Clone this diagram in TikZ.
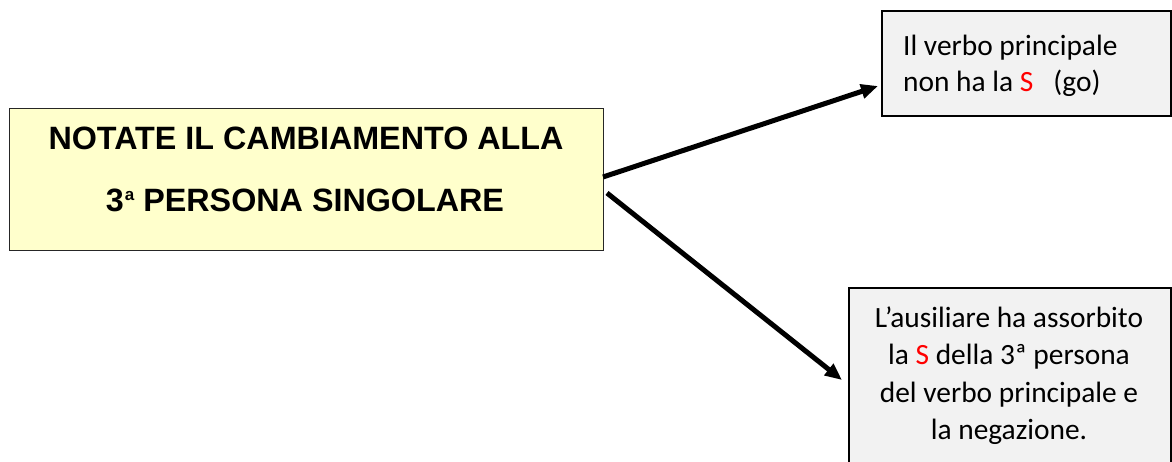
\documentclass[tikz,border=0pt]{standalone}
\usepackage{fontspec}
\setmainfont{Carlito}
\newfontfamily\headfont{Liberation Sans}
\usetikzlibrary{arrows.meta}
\definecolor{mainfill}{HTML}{FFFFCC}
\definecolor{boxfill}{HTML}{F2F2F2}
\definecolor{sred}{HTML}{FF0000}
\tikzset{
  mainbox/.style={draw=black!85, line width=1.2pt, fill=mainfill, anchor=north west, inner sep=0pt},
  notebox/.style={draw=black, line width=2pt, fill=boxfill, anchor=north west, inner sep=0pt},
  headtxt/.style={font=\headfont\bfseries\fontsize{32.3}{37}\selectfont, anchor=base, inner sep=0pt},
  notetxt/.style={font=\fontsize{29.4}{37}\selectfont, inner sep=0pt},
  conn/.style={line width=5pt, -{Triangle[length=17pt,width=14pt]}}
}
\begin{document}
\begin{tikzpicture}[x=1pt,y=-1pt]
\useasboundingbox (0,0) rectangle (1172,461);
\fill[white] (0,0) rectangle (1172,461);
% main box
\node[mainbox, minimum width=594pt, minimum height=142pt] (main) at (9,108) {};
\node[headtxt] (h1) at (306,149) {NOTATE IL CAMBIAMENTO ALLA};
\node[headtxt] (h2) at (305,211) {3\kern1pt\raisebox{11pt}{\fontsize{17}{17}\selectfont a} PERSONA SINGOLARE};
% top note box
\node[notebox, minimum width=289pt, minimum height=105pt] (top) at (881,10) {};
\node[notetxt, anchor=base west] (t1) at (903,55) {Il verbo principale};
\node[notetxt, anchor=base west] (t2) at (903,91) {non ha la \textcolor{sred}{S}\hspace{20pt}(go)};
% bottom note box
\node[notebox, minimum width=322pt, minimum height=200pt] (bot) at (848,287) {};
\node[notetxt, anchor=base] (b1) at (1009,327) {L’ausiliare ha assorbito};
\node[notetxt, anchor=base] (b2) at (1009,364) {la \textcolor{sred}{S} della 3ª persona};
\node[notetxt, anchor=base] (b3) at (1009,402) {del verbo principale e};
\node[notetxt, anchor=base] (b4) at (1009,439) {la negazione.};
% connectors
\coordinate (s1) at (603,177);
\coordinate (e1) at (878,86);
\coordinate (s2) at (607,193);
\coordinate (e2) at (842,380);
\draw[conn] (s1) -- (e1);
\draw[conn] (s2) -- (e2);
\end{tikzpicture}
\end{document}
